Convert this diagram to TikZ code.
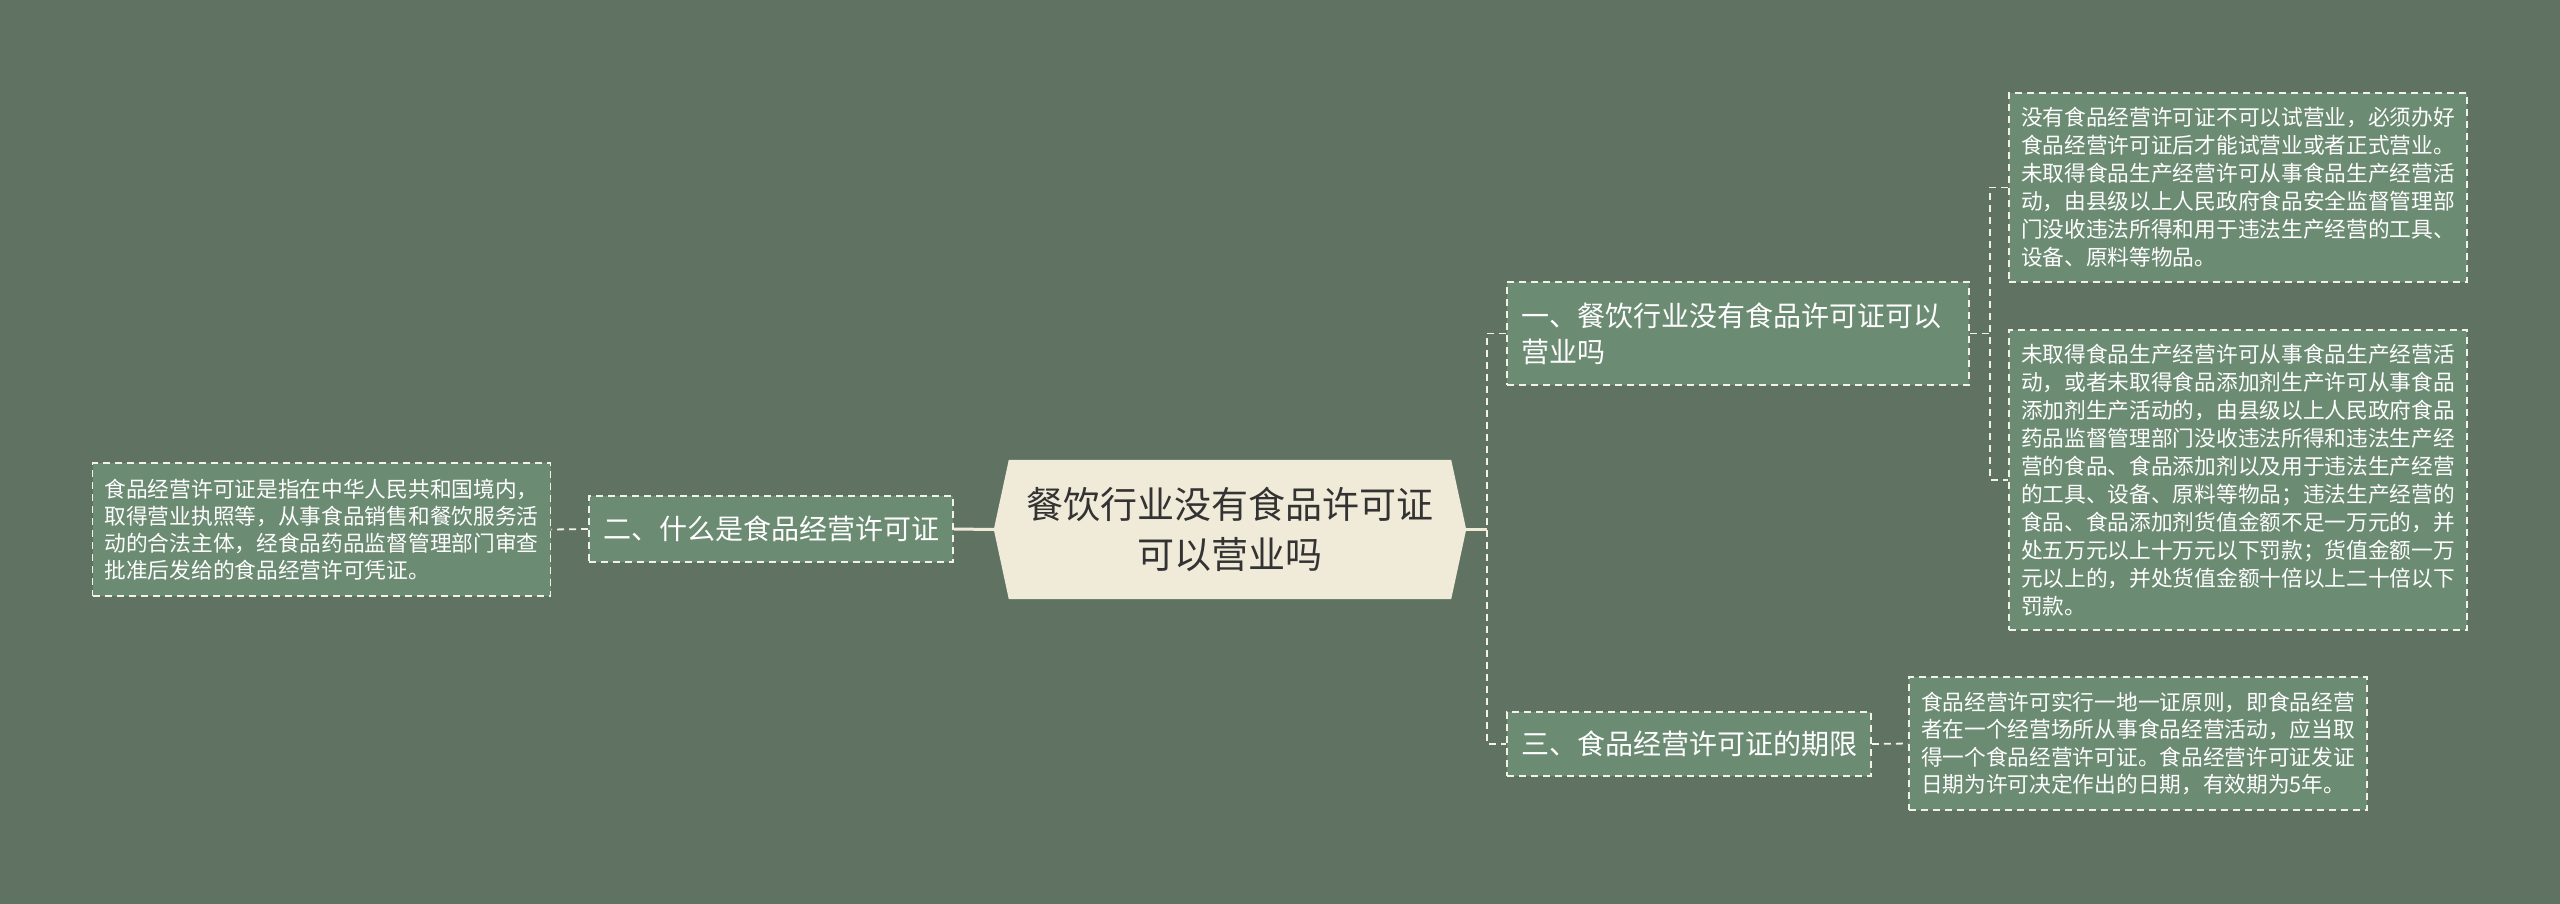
\documentclass[tikz,border=0pt]{standalone}
\usepackage{fontspec}
\setmainfont{Noto Sans CJK SC}
\definecolor{bgc}{HTML}{607362}
\definecolor{boxc}{HTML}{6C8B73}
\definecolor{rootc}{HTML}{F0EAD8}
\definecolor{linec}{HTML}{F2F2EA}
\definecolor{roottext}{HTML}{333333}
\tikzset{
  dashbox/.style={draw=linec, line width=1.8pt, dash pattern=on 7pt off 5pt, fill=boxc,
    text=white, align=left, anchor=center, inner ysep=0pt},
  leafbox/.style={dashbox, font=\fontsize{21.7pt}{28pt}\selectfont, text width=434pt, inner xsep=12pt},
  topicbox/.style={dashbox, font=\fontsize{28pt}{36pt}\selectfont, inner xsep=14pt},
  dashline/.style={draw=linec, line width=1.8pt, dash pattern=on 7pt off 5pt},
  solidline/.style={draw=rootc, line width=3pt},
}
\begin{document}
\begin{tikzpicture}[x=1pt,y=-1pt]
\fill[bgc] (0,0) rectangle (2560,904);
\useasboundingbox (0,0) rectangle (2560,904);

% root
\node[minimum width=472pt, minimum height=139pt, inner sep=0pt] (root) at (1230,529.5) {};
\fill[rootc] (root.west) -- ([xshift=15pt]root.north west) -- ([xshift=-15pt]root.north east)
  -- (root.east) -- ([xshift=-15pt]root.south east) -- ([xshift=15pt]root.south west) -- cycle;
\node[text=roottext, align=center, font=\fontsize{37pt}{50.5pt}\selectfont] at (root.center)
  {餐饮行业没有食品许可证\\可以营业吗};

% topics
\node[topicbox, text width=434pt, minimum height=103pt] (n1) at (1738,333.5)
  {一、餐饮行业没有食品许可证可以\\营业吗};
\node[topicbox, minimum width=364pt, minimum height=66pt] (n2) at (771,529)
  {二、什么是食品经营许可证};
\node[topicbox, minimum width=364pt, minimum height=64pt] (n3) at (1689,744)
  {三、食品经营许可证的期限};

% leaves
\node[leafbox, minimum height=189pt] (l1) at (2238,187.5)
  {没有食品经营许可证不可以试营业，必须办好\\
   食品经营许可证后才能试营业或者正式营业。\\
   未取得食品生产经营许可从事食品生产经营活\\
   动，由县级以上人民政府食品安全监督管理部\\
   门没收违法所得和用于违法生产经营的工具、\\
   设备、原料等物品。};
\node[leafbox, minimum height=300pt] (l2) at (2238,480)
  {未取得食品生产经营许可从事食品生产经营活\\
   动，或者未取得食品添加剂生产许可从事食品\\
   添加剂生产活动的，由县级以上人民政府食品\\
   药品监督管理部门没收违法所得和违法生产经\\
   营的食品、食品添加剂以及用于违法生产经营\\
   的工具、设备、原料等物品；违法生产经营的\\
   食品、食品添加剂货值金额不足一万元的，并\\
   处五万元以上十万元以下罚款；货值金额一万\\
   元以上的，并处货值金额十倍以上二十倍以下\\
   罚款。};
\node[leafbox, minimum height=133pt, font=\fontsize{21.7pt}{27.5pt}\selectfont] (l3) at (2138,743.5)
  {食品经营许可实行一地一证原则，即食品经营\\
   者在一个经营场所从事食品经营活动，应当取\\
   得一个食品经营许可证。食品经营许可证发证\\
   日期为许可决定作出的日期，有效期为5年。};
\node[leafbox, minimum height=133pt, font=\fontsize{21.7pt}{27pt}\selectfont] (lL) at (321.5,529.5)
  {食品经营许可证是指在中华人民共和国境内，\\
   取得营业执照等，从事食品销售和餐饮服务活\\
   动的合法主体，经食品药品监督管理部门审查\\
   批准后发给的食品经营许可凭证。};

% connectors
\coordinate (t1) at (1487,529.5);
\coordinate (t2) at (1990,333.5);
\draw[solidline] (root.west) -- (n2.east);
\draw[dashline] (n2.west) -- (lL.east);
\draw[solidline] (root.east) -- (t1);
\draw[dashline] (n1.west) -| (t1) |- (n3.west);
\draw[dashline] (n1.east) -- (t2);
\draw[dashline] (l1.west) -| (t2) |- (l2.west);
\draw[dashline] (n3.east) -- (l3.west);
\end{tikzpicture}
\end{document}
